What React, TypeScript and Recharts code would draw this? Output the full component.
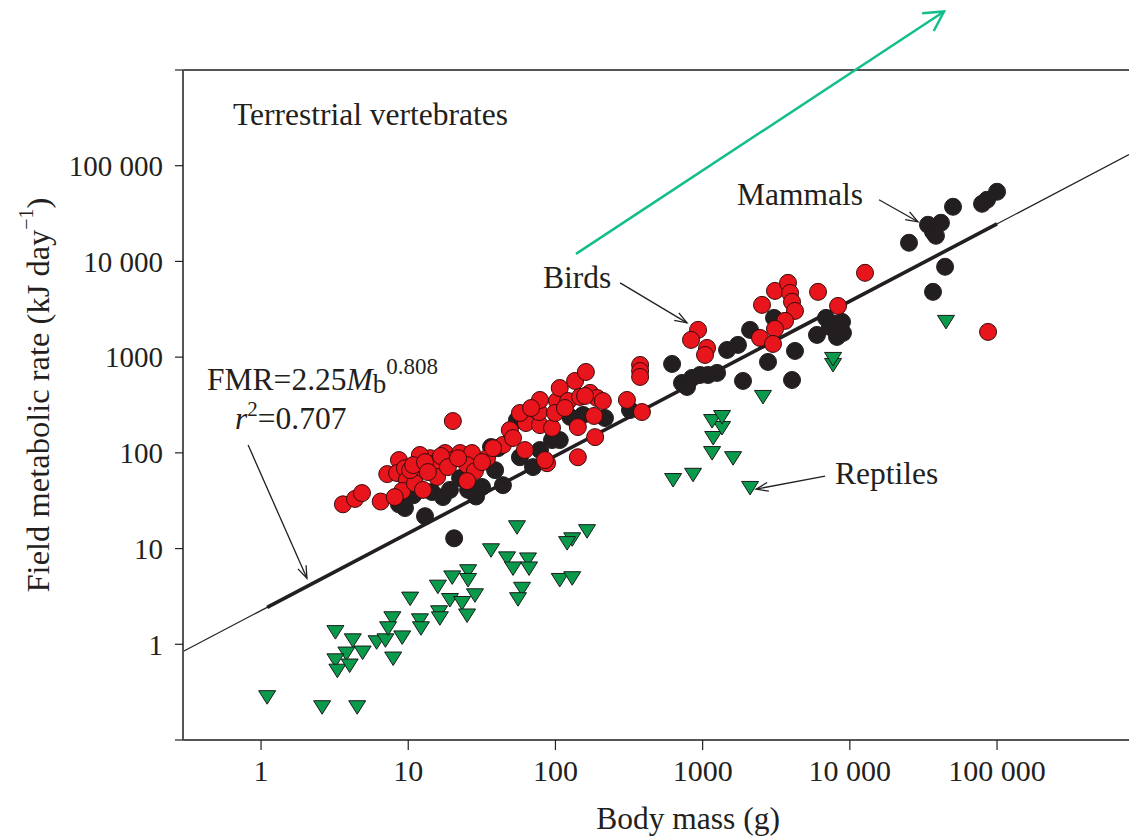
import { ScatterChart, Scatter, XAxis, YAxis, ReferenceLine, ReferenceDot, Label } from "recharts";

const FONT = '"Liberation Serif", "Times New Roman", serif';
const INK = "#231f20";
const AXIS = "#555555";

// [body mass (g), field metabolic rate (kJ/day)]
const birds: [number, number][] = [
  [3.6, 29], [4.35, 33], [4.85, 38], [6.5, 31], [7.2, 60], [8.65, 84], [8.4, 61.5], [9.5, 69],
  [9.8, 52], [9.1, 40], [8.1, 34.5], [11.6, 71], [11.1, 48], [12.6, 41], [14.1, 88], [15.2, 78],
  [15.7, 56], [17.8, 99.5], [19.8, 84], [20.1, 215], [22.5, 99.5], [27.1, 99.5], [25.1, 74.5],
  [28.4, 64.5], [25.1, 50.7], [34.3, 88], [44, 121], [49, 173], [51.5, 143], [62, 107], [63, 205],
  [78.5, 195], [77.3, 267], [78.5, 357], [87.7, 78], [94.8, 182], [102.5, 348], [107, 476],
  [122, 348], [136, 564], [147, 384], [161, 700], [172, 423], [192, 374], [210, 348], [183, 243],
  [186, 146], [142, 186], [142, 90], [306, 357], [376, 829], [376, 717], [376, 621], [387, 267],
  [85, 84], [12, 95], [10.3, 66],
  [10.8, 74.5], [13, 80], [13.6, 63], [16.7, 92.6], [18.6, 71], [21.8, 88], [31.7, 80], [37.7, 112],
  [57.4, 261], [68.3, 294], [99.4, 261], [116, 294], [159, 393],
  [931, 1927], [834, 1514], [1071, 1248], [1038, 1054], [2531, 3516], [3102, 4922], [3802, 5970],
  [3926, 4690], [4048, 3778], [4240, 3041], [3630, 2393], [3102, 1972], [2453, 1588], [3006, 1374],
  [6081, 4808], [8318, 3428], [12680, 7603], [86900, 1836],
];

const mammals: [number, number][] = [
  [8.65, 29], [9.5, 26.5], [13, 21.8], [10.8, 36], [14.5, 39], [17.2, 34.5], [20.5, 12.8],
  [22.5, 54.5], [25.5, 41], [31.7, 44], [38.9, 66], [44, 46], [54.8, 220], [57.4, 90], [70.4, 71],
  [40.7, 112], [78.5, 107], [94.8, 136], [107, 136], [126, 237], [217, 231], [154, 249], [321, 280],
  [36.5, 115], [19.2, 41], [28.9, 35],
  [620, 849], [724, 537], [783, 488], [847, 606], [960, 651], [1088, 651], [1253, 684], [1465, 1189],
  [1738, 1343], [2099, 1927], [1880, 564], [2780, 891], [3054, 2570], [4240, 1161], [4048, 577],
  [5984, 1707], [6887, 2570], [7328, 2070], [8054, 2224], [8848, 2335], [8980, 1791], [8184, 1626],
  [25230, 15670], [33960, 24150], [36730, 20420], [41590, 25350], [38460, 18530], [50230, 37240],
  [79070, 40000], [85500, 44060], [100000, 53460], [44360, 8790], [36730, 4808],
];

const reptiles: [number, number][] = [
  [1.1, 0.28], [2.6, 0.22], [4.5, 0.22], [3.2, 1.34], [4.2, 1.1], [4.9, 0.82], [3.8, 0.8], [3.2, 0.68],
  [3.3, 0.53], [4.0, 0.6], [6.1, 1.05], [7.0, 1.1], [7.8, 1.87], [7.3, 1.47], [7.9, 0.71], [9.1, 1.18],
  [10.3, 3.0], [12, 1.78], [12.2, 1.47], [15.9, 4.0], [16.2, 2.16], [16.4, 1.87], [19.9, 5.0],
  [25.5, 5.8], [25.5, 4.7], [28.4, 3.25], [19.2, 2.9], [23.2, 2.7], [25.1, 2.0], [54.8, 16.7],
  [36.5, 9.6], [46.9, 7.9], [51.5, 6.2], [65.1, 7.7], [66.2, 6.2], [59.3, 3.8], [55.7, 2.96],
  [130, 12.5], [120, 11.4], [164, 15.2], [107, 4.7], [130, 4.9], [630, 52], [861, 59], [2100, 43],
  [1160, 99.5], [1610, 88], [1180, 143], [1355, 182], [1160, 215], [1355, 237], [2570, 384],
  [7690, 829], [7690, 958], [45000, 2335],
];

const xTicks = [1, 10, 100, 1000, 10000, 100000];
const xTickLabels = ["1", "10", "100", "1000", "10 000", "100 000"];
const yTicks = [0.1, 1, 10, 100, 1000, 10000, 100000, 1000000];
const yTickLabels = ["", "1", "10", "100", "1000", "10 000", "100 000", ""];

// FMR = 2.25 Mb^0.808 : thin across the axis, thick across the data
const fitThin: [number, number][] = [[0.295, 0.84], [788000, 130600]];
const fitThick: [number, number][] = [[1.1, 2.43], [100000, 24660]];

// pointer arrows [from, to]
const pointers: [number, number][][] = [
  [[15780, 44060], [29050, 25960]], // mammals
  [[275, 5970], [783, 2280]], // birds
  [[6790, 57.2], [2306, 41.8]], // reptiles
  [[0.817, 120.5], [2.05, 4.9]], // equation
];
const greenArrow: [number, number][] = [[138, 12000], [43650, 4080000]];

const groupNotes: { at: [number, number]; text: string }[] = [
  { at: [0.645, 340000], text: "Terrestrial vertebrates" },
  { at: [1714, 50000], text: "Mammals" },
  { at: [82.4, 6730], text: "Birds" },
  { at: [7930, 61.5], text: "Reptiles" },
];
const fmrAt: [number, number] = [0.43, 454];
const r2At: [number, number] = [0.666, 177];

const toPts = (arr: [number, number][]) => arr.map(([m, f]) => ({ m, f }));

const circle = (fill: string, stroke: string) => (p: any) => (
  <circle cx={p.cx} cy={p.cy} r={8.5} fill={fill} stroke={stroke} strokeWidth={1} />
);

const downTri = (p: any) => (
  <polygon
    points={`${p.cx - 8.5},${p.cy - 6.5} ${p.cx + 8.5},${p.cy - 6.5} ${p.cx},${p.cy + 7}`}
    fill="#0a9a4c"
    stroke="#1b1b1b"
    strokeWidth={1}
  />
);

const arrow = (color: string, width: number, head: number, spread: number) => (p: any) => {
  const { x1, y1, x2, y2 } = p;
  const a = Math.atan2(y2 - y1, x2 - x1);
  const h1x = x2 - head * Math.cos(a - spread);
  const h1y = y2 - head * Math.sin(a - spread);
  const h2x = x2 - head * Math.cos(a + spread);
  const h2y = y2 - head * Math.sin(a + spread);
  return (
    <g>
      <line x1={x1} y1={y1} x2={x2} y2={y2} stroke={color} strokeWidth={width} />
      <polyline points={`${h1x},${h1y} ${x2},${y2} ${h2x},${h2y}`} fill="none" stroke={color} strokeWidth={width} />
    </g>
  );
};

const plainLine = (width: number) => (p: any) => (
  <line x1={p.x1} y1={p.y1} x2={p.x2} y2={p.y2} stroke={INK} strokeWidth={width} />
);

const YTitle = ({ viewBox }: any) => {
  const cx = viewBox.x + 38;
  const cy = viewBox.y + viewBox.height / 2 - 10;
  return (
    <text
      x={cx}
      y={cy}
      transform={`rotate(-90 ${cx} ${cy})`}
      textAnchor="middle"
      dominantBaseline="central"
      fontFamily={FONT}
      fontSize={32.5}
      fill={INK}
    >
      Field metabolic rate (kJ day
      <tspan dy={-12} fontSize={20}>−1</tspan>
      <tspan dy={12}>)</tspan>
    </text>
  );
};

const XTitle = ({ viewBox }: any) => (
  <text
    x={viewBox.x + viewBox.width / 2 + 32}
    y={viewBox.y + 89}
    textAnchor="middle"
    fontFamily={FONT}
    fontSize={31.5}
    fill={INK}
  >
    Body mass (g)
  </text>
);

export default function App() {
  return (
    <div style={{ position: "absolute", left: 0, top: 0, background: "#fff" }}>
      <ScatterChart width={1129} height={839} margin={{ top: 70, right: 0, bottom: 0, left: 0 }}>
        <XAxis
          type="number"
          dataKey="m"
          scale="log"
          domain={[0.295, 788000]}
          allowDataOverflow
          ticks={xTicks}
          interval={0}
          tickFormatter={(v: number) => xTickLabels[xTicks.indexOf(v)] ?? ""}
          height={99}
          tickSize={10}
          tickMargin={10}
          axisLine={{ stroke: AXIS, strokeWidth: 2 }}
          tickLine={{ stroke: INK, strokeWidth: 1.2 }}
          tick={{ fontFamily: FONT, fontSize: 30, fill: INK }}
        >
          <Label content={<XTitle />} />
        </XAxis>
        <YAxis
          type="number"
          dataKey="f"
          scale="log"
          domain={[0.1, 1000000]}
          allowDataOverflow
          ticks={yTicks}
          interval={0}
          tickFormatter={(v: number) => yTickLabels[yTicks.indexOf(v)] ?? ""}
          width={183}
          tickSize={8}
          tickMargin={12}
          axisLine={{ stroke: AXIS, strokeWidth: 2 }}
          tickLine={{ stroke: INK, strokeWidth: 1.2 }}
          tick={{ fontFamily: FONT, fontSize: 29, fill: INK }}
        >
          <Label content={<YTitle />} />
        </YAxis>

        <ReferenceLine y={1000000} stroke={AXIS} strokeWidth={2} ifOverflow="visible" />
        <ReferenceLine
          segment={fitThin.map(([x, y]) => ({ x, y }))}
          ifOverflow="visible"
          shape={plainLine(1.2)}
        />
        <ReferenceLine
          segment={fitThick.map(([x, y]) => ({ x, y }))}
          ifOverflow="visible"
          shape={plainLine(3.6)}
        />

        <Scatter data={toPts(mammals)} fill={INK} shape={circle(INK, INK)} isAnimationActive={false} />
        <Scatter data={toPts(birds)} fill="#e8151c" shape={circle("#e8151c", "#3b0b0b")} isAnimationActive={false} />
        <Scatter data={toPts(reptiles)} fill="#0a9a4c" shape={downTri} isAnimationActive={false} />

        {pointers.map((seg, i) => (
          <ReferenceLine
            key={`p${i}`}
            segment={seg.map(([x, y]) => ({ x, y }))}
            ifOverflow="visible"
            shape={arrow(INK, 1.3, 13, 0.35)}
          />
        ))}
        <ReferenceLine
          segment={greenArrow.map(([x, y]) => ({ x, y }))}
          ifOverflow="visible"
          shape={arrow("#14be8c", 2.5, 22, 0.5)}
        />

        {groupNotes.map((n, i) => (
          <ReferenceDot
            key={`n${i}`}
            x={n.at[0]}
            y={n.at[1]}
            r={0}
            ifOverflow="visible"
            shape={(p: any) => (
              <text x={p.cx} y={p.cy} dominantBaseline="central" fontFamily={FONT} fontSize={31.5} fill={INK}>
                {n.text}
              </text>
            )}
          />
        ))}
        <ReferenceDot
          x={fmrAt[0]}
          y={fmrAt[1]}
          r={0}
          ifOverflow="visible"
          shape={(p: any) => (
            <text x={p.cx} y={p.cy} fontFamily={FONT} fontSize={31.5} fill={INK}>
              FMR=2.25<tspan fontStyle="italic">M</tspan>
              <tspan fontSize={27} dy={3}>b</tspan>
              <tspan fontSize={23} dy={-19}>0.808</tspan>
            </text>
          )}
        />
        <ReferenceDot
          x={r2At[0]}
          y={r2At[1]}
          r={0}
          ifOverflow="visible"
          shape={(p: any) => (
            <text x={p.cx} y={p.cy} fontFamily={FONT} fontSize={31.5} fill={INK}>
              <tspan fontStyle="italic">r</tspan>
              <tspan fontSize={21} dy={-13}>2</tspan>
              <tspan dy={13}>=0.707</tspan>
            </text>
          )}
        />
      </ScatterChart>
    </div>
  );
}
